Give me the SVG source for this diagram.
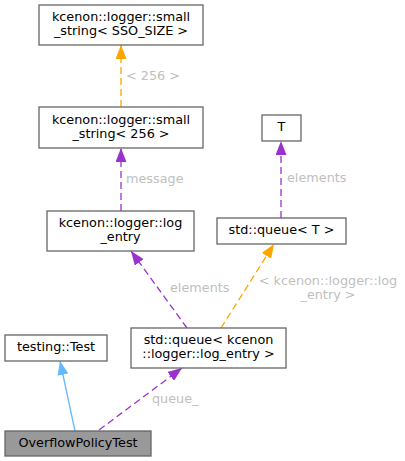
<svg xmlns="http://www.w3.org/2000/svg" width="405" height="461" viewBox="0 0 405 461">
<style>
.box{fill:#ffffff;stroke:#666666;stroke-width:1.3}
.cur{fill:#999999;stroke:#666666;stroke-width:1.3}
.t{font-family:"DejaVu Sans",sans-serif;font-size:12.8px;fill:#000000;text-anchor:middle}
.lbl{font-family:"DejaVu Sans",sans-serif;font-size:12.8px;fill:#c0c0c0}
.e{fill:none;stroke-width:1.3}
.dash{stroke-dasharray:7,4}
.or{stroke:#ffa500}
.pu{stroke:#9a32cd}
.bl{stroke:#63b8ff}
</style>
<defs>
<marker id="ao" viewBox="0 0 14 11" refX="14" refY="5.5" markerWidth="14" markerHeight="11" markerUnits="userSpaceOnUse" orient="auto"><path d="M0,0 L14,5.5 L0,11 z" fill="#ffa500"/></marker>
<marker id="ap" viewBox="0 0 14 11" refX="14" refY="5.5" markerWidth="14" markerHeight="11" markerUnits="userSpaceOnUse" orient="auto"><path d="M0,0 L14,5.5 L0,11 z" fill="#9a32cd"/></marker>
<marker id="ab" viewBox="0 0 14 11" refX="14" refY="5.5" markerWidth="14" markerHeight="11" markerUnits="userSpaceOnUse" orient="auto"><path d="M0,0 L14,5.5 L0,11 z" fill="#63b8ff"/></marker>
</defs>
<g id="connectors">
<line class="e dash or" x1="121" y1="107" x2="121" y2="45" marker-end="url(#ao)"/>
<text class="lbl" x="126" y="80">&lt; 256 &gt;</text>
<line class="e dash pu" x1="121" y1="211" x2="121" y2="148" marker-end="url(#ap)"/>
<text class="lbl" x="126" y="183">message</text>
<line class="e dash pu" x1="281" y1="218" x2="281" y2="141" marker-end="url(#ap)"/>
<text class="lbl" x="287" y="182">elements</text>
<line class="e dash pu" x1="187" y1="328" x2="131" y2="251" marker-end="url(#ap)"/>
<text class="lbl" x="170" y="292">elements</text>
<line class="e dash or" x1="221" y1="328" x2="274" y2="244" marker-end="url(#ao)"/>
<text class="lbl" x="328" y="285" text-anchor="middle">&lt; kcenon::logger::log</text>
<text class="lbl" x="328" y="299" text-anchor="middle">_entry &gt;</text>
<line class="e bl" x1="75" y1="431" x2="60" y2="361" marker-end="url(#ab)"/>
<line class="e dash pu" x1="99" y1="430" x2="182" y2="368" marker-end="url(#ap)"/>
<text class="lbl" x="152" y="403">queue_</text>
</g>
<g id="node_sso">
<rect class="box" x="39" y="5" width="164" height="40"/>
<text class="t" x="121" y="20.5">kcenon::logger::small</text>
<text class="t" x="121" y="34.5">_string&lt; SSO_SIZE &gt;</text>
</g>
<g id="node_s256">
<rect class="box" x="39" y="107" width="164" height="41"/>
<text class="t" x="121" y="123.5">kcenon::logger::small</text>
<text class="t" x="121" y="137.5">_string&lt; 256 &gt;</text>
</g>
<g id="node_T">
<rect class="box" x="262" y="115" width="39" height="26"/>
<text class="t" x="281.5" y="131">T</text>
</g>
<g id="node_queueT">
<rect class="box" x="217" y="218" width="129" height="26"/>
<text class="t" x="281.5" y="234">std::queue&lt; T &gt;</text>
</g>
<g id="node_log_entry">
<rect class="box" x="47" y="211" width="147" height="40"/>
<text class="t" x="120.5" y="226.5">kcenon::logger::log</text>
<text class="t" x="120.5" y="240.5">_entry</text>
</g>
<g id="node_queue_le">
<rect class="box" x="131" y="328" width="155" height="40"/>
<text class="t" x="208.5" y="343.5">std::queue&lt; kcenon</text>
<text class="t" x="208.5" y="357.5">::logger::log_entry &gt;</text>
</g>
<g id="node_test">
<rect class="box" x="5" y="335" width="102" height="26"/>
<text class="t" x="56" y="351">testing::Test</text>
</g>
<g id="node_overflow">
<rect class="cur" x="5" y="431" width="146" height="25"/>
<text class="t" x="78" y="447">OverflowPolicyTest</text>
</g>
</svg>
